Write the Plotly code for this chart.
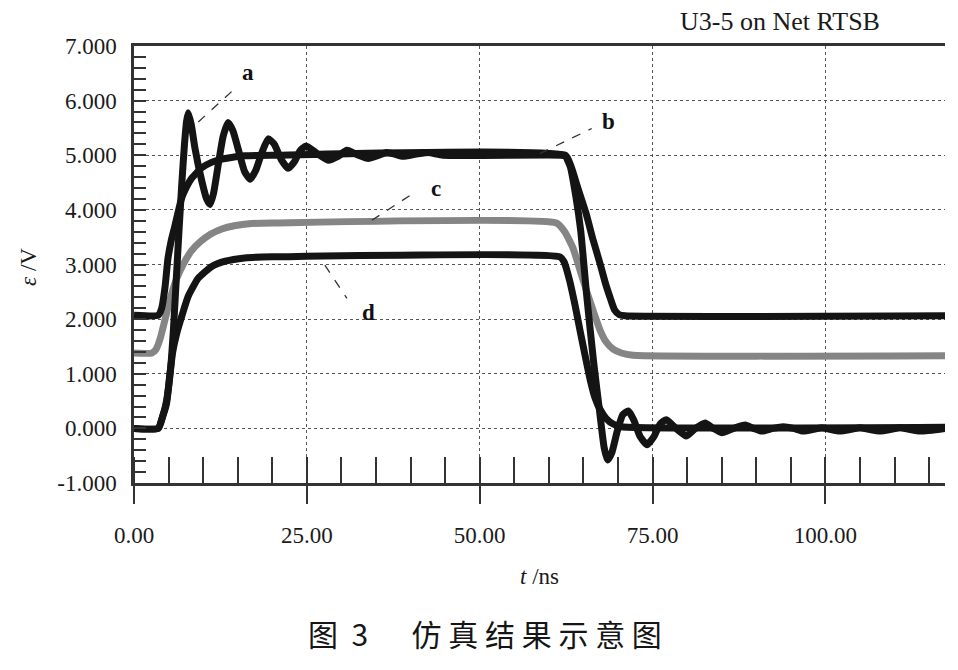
import plotly.graph_objects as go

# ---------------- data ----------------
t_a = [0, 3.5, 4.1, 4.7, 5.3, 5.7, 6.1, 6.5, 6.9, 7.3, 7.6, 7.85, 8.3, 8.8, 9.8, 10.5, 11.0, 11.5,
       12.2, 12.9, 13.6, 14.3, 15.1, 16.0, 16.8, 17.6, 18.5, 19.4, 20.3, 21.3, 22.3, 23.2, 24.0, 24.9,
       26.5, 28.1, 29.5, 30.8, 32.3, 33.9, 35.2, 36.5, 37.7, 38.9, 40.8, 42.6, 44.7, 61.8, 62.4, 63.1,
       63.9, 64.6, 65.5, 66.5, 67.4, 68.0, 68.5, 69.1, 69.9, 70.7, 71.5, 72.3, 73.2, 74.2, 75.2, 76.1,
       77.0, 78.4, 79.9, 81.2, 82.6, 83.8, 85.0, 86.7, 88.4, 89.6, 90.8, 92.4, 93.9, 95.4, 96.8, 99.5,
       102.1, 105.0, 107.9, 110.8, 113.7, 117.3]
v_a = [0, 0, 0.2, 0.5, 1.1, 1.8, 2.7, 3.6, 4.45, 5.2, 5.62, 5.78, 5.55, 5.14, 4.53, 4.2, 4.1, 4.3,
       4.84, 5.35, 5.6, 5.45, 5.1, 4.7, 4.56, 4.72, 5.05, 5.3, 5.2, 4.92, 4.76, 4.88, 5.08, 5.17,
       5.03, 4.91, 4.98, 5.09, 5.01, 4.94, 4.99, 5.05, 5.02, 4.98, 5.02, 5.05, 5.0, 5.0, 4.98, 4.79,
       4.25, 3.63, 2.4, 1.19, 0.25, -0.35, -0.58, -0.45, -0.05, 0.25, 0.32, 0.15, -0.15, -0.3, -0.15, 0.08,
       0.16, 0.0, -0.14, 0.0, 0.1, 0.0, -0.08, 0.0, 0.06, 0.0, -0.05, 0.0, 0.03, 0.0, -0.05, 0.01,
       -0.05, 0.01, -0.05, 0.01, -0.05, 0.0]

t_b = [0, 3.5, 4.0, 4.5, 4.9, 5.4, 5.9, 6.4, 6.9, 7.6, 8.35, 9.8, 11.2, 12.7, 14.1, 16.0, 20.0,
       62.4, 63.2, 64.2, 65.4, 66.4, 67.4, 68.2, 68.9, 69.5, 70.2, 71.0, 117.3]
v_b = [2.07, 2.07, 2.2, 2.6, 3.1, 3.45, 3.7, 3.97, 4.22, 4.42, 4.58, 4.77, 4.87, 4.93, 4.96, 4.99, 5.0,
       5.0, 4.8, 4.4, 3.93, 3.45, 3.02, 2.65, 2.38, 2.17, 2.08, 2.06, 2.06]

t_c = [0, 2.6, 3.2, 3.8, 4.5, 5.3, 6.2, 7.2, 8.3, 9.6, 11.0, 12.7, 14.5, 17.0, 20.0,
       61.1, 62.3, 63.5, 64.5, 65.5, 66.5, 67.4, 68.3, 69.3, 70.5, 72.2, 117.3]
v_c = [1.38, 1.38, 1.45, 1.65, 2.0, 2.4, 2.75, 3.02, 3.25, 3.42, 3.55, 3.65, 3.71, 3.75, 3.76,
       3.76, 3.6, 3.3, 2.9, 2.5, 2.12, 1.8, 1.58, 1.45, 1.38, 1.34, 1.33]

t_d = [0, 3.5, 4.1, 4.7, 5.2, 5.6, 6.2, 6.9, 7.85, 9.3, 11.2, 13.2, 16.0, 20.0,
       61.6, 62.2, 63.0, 63.8, 64.5, 65.3, 66.0, 66.7, 67.4, 68.3, 69.3, 70.5, 117.3]
v_d = [0, 0, 0.2, 0.45, 1.0, 1.4, 1.75, 2.05, 2.42, 2.75, 2.96, 3.06, 3.12, 3.14,
       3.14, 3.05, 2.71, 2.25, 1.8, 1.3, 0.88, 0.55, 0.35, 0.18, 0.08, 0.03, 0.02]

y_ticks = [-1, 0, 1, 2, 3, 4, 5, 6, 7]
y_ticktext = ["-1.000", "0.000", "1.000", "2.000", "3.000", "4.000", "5.000", "6.000", "7.000"]
x_ticks = [0, 25, 50, 75, 100]
x_ticktext = ["0.00", "25.00", "50.00", "75.00", "100.00"]

curve_labels = ["a", "b", "c", "d"]
title_text = "U3-5 on Net RTSB"
caption_text = "图\u00a0\u00a03\u3000\u00a0\u00a0仿\u00a0真\u00a0结\u00a0果\u00a0示\u00a0意\u00a0图"

# ---------------- figure ----------------
BLACK = "#141414"
GREY = "#858585"
SERIF = "Liberation Serif"

fig = go.Figure()
for t, v, col in [(t_c, v_c, GREY), (t_d, v_d, BLACK), (t_b, v_b, BLACK), (t_a, v_a, BLACK)]:
    fig.add_trace(go.Scatter(x=t, y=v, mode="lines",
                             line=dict(color=col, width=7, shape="spline", smoothing=0.5),
                             showlegend=False, hoverinfo="skip"))

# label annotations with dashed leader lines (data coordinates)
label_pos = {"a": (16.5, 6.52), "b": (68.6, 5.62), "c": (43.7, 4.39), "d": (33.9, 2.13)}
leaders = {"a": ((9.3, 5.61), (14.85, 6.25)), "b": ((58.7, 5.03), (66.2, 5.49)),
           "c": ((34.4, 3.81), (40.35, 4.30)), "d": ((27.6, 2.99), (30.8, 2.38))}
annotations = []
shapes = []
for lab in curve_labels:
    x, y = label_pos[lab]
    annotations.append(dict(x=x, y=y, xref="x", yref="y", text=f"<b>{lab}</b>", showarrow=False,
                            font=dict(family=SERIF, size=23, color="#111")))
    (x0, y0), (x1, y1) = leaders[lab]
    shapes.append(dict(type="line", xref="x", yref="y", x0=x0, y0=y0, x1=x1, y1=y1,
                       line=dict(color="#333", width=1.3, dash="dash")))

annotations += [
    dict(x=0.797, y=1.055, xref="paper", yref="paper", text=title_text, showarrow=False,
         font=dict(family=SERIF, size=26, color="#1a1a1a"), xanchor="center", yanchor="middle"),
    dict(x=0.50, y=-0.213, xref="paper", yref="paper", text="<i>t</i> /ns", showarrow=False,
         font=dict(family=SERIF, size=23, color="#1a1a1a"), xanchor="center", yanchor="middle"),
    dict(x=-0.131, y=0.494, xref="paper", yref="paper", text="<i>ε</i> /V", showarrow=False,
         textangle=-90, font=dict(family=SERIF, size=23, color="#1a1a1a"),
         xanchor="center", yanchor="middle"),
    dict(x=0.433, y=-0.343, xref="paper", yref="paper", text=caption_text, showarrow=False,
         font=dict(family="Noto Sans CJK SC", size=30, color="#151515"),
         xanchor="center", yanchor="middle"),
]

# page body has an 8px margin: figure is sized/offset so the plot area lands where the reference has it
fig.update_layout(
    width=950, height=662,
    margin=dict(l=126, r=13, t=38, b=187),
    paper_bgcolor="white", plot_bgcolor="white",
    annotations=annotations, shapes=shapes,
    xaxis=dict(range=[0, 117.3], tickvals=x_ticks, ticktext=x_ticktext,
               ticks="outside", ticklen=18, tickwidth=1.5, tickcolor="#333",
               ticklabelstandoff=12,
               tickfont=dict(family=SERIF, size=23, color="#1a1a1a"),
               showgrid=True, gridcolor="#555", gridwidth=1.2, griddash="dot",
               showline=True, linecolor="#333", linewidth=2.5, mirror=True,
               zeroline=False,
               minor=dict(dtick=5, tick0=0, ticks="inside", ticklen=26, tickwidth=1.5,
                          tickcolor="#333", showgrid=False)),
    yaxis=dict(range=[-1, 7], tickvals=y_ticks, ticktext=y_ticktext,
               ticks="inside", ticklen=12, tickwidth=1.5, tickcolor="#333",
               ticklabelstandoff=10,
               tickfont=dict(family=SERIF, size=23, color="#1a1a1a"),
               showgrid=True, gridcolor="#555", gridwidth=1.2, griddash="dot",
               showline=True, linecolor="#333", linewidth=2.5, mirror=False,
               zeroline=False,
               minor=dict(dtick=0.2, tick0=0, ticks="inside", ticklen=12, tickwidth=1.5,
                          tickcolor="#333", showgrid=False)),
)

fig.write_html("out.html")
